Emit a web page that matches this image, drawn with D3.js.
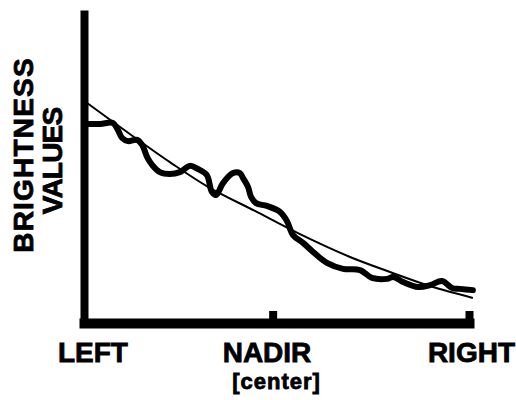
<!DOCTYPE html>
<html>
<head>
<meta charset="utf-8">
<script src="https://cdn.jsdelivr.net/npm/d3@7"></script>
<style>
  body { margin: 0; background: #fff; }
  text { font-family: "Liberation Sans", Arial, sans-serif; font-weight: bold; fill: #000; stroke: #000; stroke-width: 0.8px; }
</style>
</head>
<body>
<script>
// scan position across the image (0 = left edge, 100 = right edge)
var scanPos = [0.8, 4.2, 7.5, 8.8, 9.9, 11.4, 13.8, 15.1, 16.4, 17.7, 19.7, 22.3, 24.9, 27.5, 29.6,
               31.9, 33.2, 34.3, 36.1, 38.7, 40.5, 41.3, 42.6, 43.4, 44.7, 47.5, 50.9, 52.7, 54.3,
               56.9, 59.5, 63.1, 67.3, 71.7, 74.8, 78.7, 80.3, 82.9, 86.8, 89.9, 93.0, 95.6, 97.7, 101.0];
var brightness = [63.6, 63.6, 63.9, 61.7, 59.1, 58.1, 58.5, 56.9, 53.0, 50.5, 48.2, 47.6, 48.2, 50.2, 49.2,
                  47.3, 41.9, 40.9, 44.7, 47.9, 47.9, 46.3, 43.5, 40.3, 38.3, 37.4, 35.5, 32.6, 28.1,
                  25.6, 22.7, 19.2, 17.3, 16.9, 14.4, 14.1, 14.7, 13.1, 11.5, 12.1, 13.4, 11.2, 10.9, 10.5];

// smooth fitted trend
var fitPos = [0.8, 11.9, 22.3, 32.2, 44.4, 56.1, 69.1, 79.5, 89.9, 101.0];
var fitVal = [70.3, 60.4, 51.4, 43.5, 35.8, 28.4, 21.1, 16.3, 11.8, 8.0];

var tickMarks = [49, 100];
var tickLabels = ["LEFT", "NADIR", "RIGHT"];
var labelPos = [2.2, 47.4, 100.5];

var width = 516, height = 400;
var x = d3.scaleLinear().domain([0, 100]).range([84, 469]);
var y = d3.scaleLinear().domain([0, 100]).range([323, 10]);

var svg = d3.select("body").append("svg")
    .attr("width", width)
    .attr("height", height);

// y axis: a plain heavy bar
var yAxisG = svg.append("g").attr("transform", "translate(" + x(0) + ",0)");
d3.axisRight(y).tickValues([]).tickSizeOuter(0)(yAxisG);
yAxisG.select(".domain").attr("stroke", "#000").attr("stroke-width", 8);

// x axis: heavy bar with short upward ticks
var xAxisG = svg.append("g").attr("transform", "translate(0," + y(0) + ")");
d3.axisTop(x).tickValues(tickMarks).tickSize(12).tickSizeOuter(0).tickFormat("")(xAxisG);
xAxisG.select(".domain").attr("stroke", "#000").attr("stroke-width", 10).attr("stroke-linecap", "square");
xAxisG.selectAll(".tick line").attr("stroke", "#000").attr("stroke-width", 8);

// x labels
var labelG = svg.append("g").attr("transform", "translate(0," + y(0) + ")");
d3.axisBottom(x).tickValues(labelPos).tickSize(0).tickPadding(19)
    .tickFormat(function(d, i) { return tickLabels[i]; })(labelG);
labelG.select(".domain").remove();
labelG.selectAll(".tick text")
    .attr("font-family", null)
    .style("font-size", "28px")
    .attr("fill", "#000");

svg.append("text")
    .attr("x", x(50))
    .attr("y", 388.5)
    .attr("text-anchor", "middle")
    .style("font-size", "22px")
    .style("letter-spacing", "1px")
    .text("[center]");

// y label
svg.append("text")
    .attr("transform", "translate(33,155) rotate(-90)")
    .attr("text-anchor", "middle")
    .style("font-size", "28px")
    .style("letter-spacing", "1.2px")
    .text("BRIGHTNESS");
svg.append("text")
    .attr("transform", "translate(62,161) rotate(-90)")
    .attr("text-anchor", "middle")
    .style("font-size", "28px")
    .style("letter-spacing", "-0.8px")
    .text("VALUES");

// curves
var line = d3.line()
    .x(function(d) { return x(d[0]); })
    .y(function(d) { return y(d[1]); })
    .curve(d3.curveCatmullRom.alpha(0.5));

svg.append("path")
    .datum(d3.zip(fitPos, fitVal))
    .attr("d", line)
    .attr("fill", "none")
    .attr("stroke", "#000")
    .attr("stroke-width", 2);

svg.append("path")
    .datum(d3.zip(scanPos, brightness))
    .attr("d", line)
    .attr("fill", "none")
    .attr("stroke", "#000")
    .attr("stroke-width", 6)
    .attr("stroke-linejoin", "round")
    .attr("stroke-linecap", "round");
</script>
</body>
</html>
